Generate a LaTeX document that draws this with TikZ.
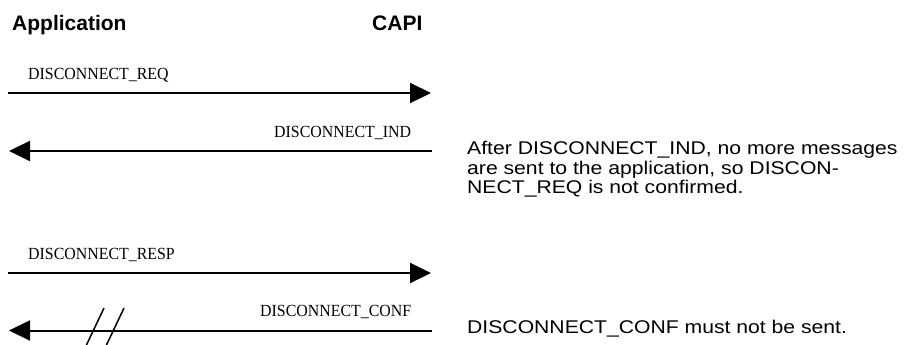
\documentclass[tikz,border=0pt]{standalone}
\usepackage{fontspec}
\newfontfamily\labelfont[FakeStretch=0.935]{Liberation Serif}
\newfontfamily\notefont[FakeStretch=1.15]{Liberation Sans}
\newfontfamily\headfont{Liberation Sans}
\usetikzlibrary{arrows.meta}
\begin{document}
\begin{tikzpicture}[x=1pt,y=-1pt,
  party/.style={anchor=base west,inner sep=0pt,font=\headfont\bfseries\fontsize{21}{24}\selectfont},
  msglabel/.style={anchor=base west,inner sep=0pt,font=\labelfont\fontsize{17}{20}\selectfont},
  note/.style={anchor=base west,inner sep=0pt,align=left,font=\notefont\fontsize{18.4}{19.4}\selectfont},
  msg/.style={line width=2pt,-{Triangle[length=21pt,width=20pt]}},
  cut/.style={line width=1.5pt}]
\useasboundingbox (0,0) rectangle (906,345);

% column headings
\node[party] (app) at (12,31) {Application};
\node[party] (capi) at (372,31) {CAPI};

% end points of the message arrows
\coordinate (reqA) at (8,93);    \coordinate (reqC) at (431,93);
\coordinate (indC) at (432,151); \coordinate (indA) at (9,151);
\coordinate (rspA) at (8,273);   \coordinate (rspC) at (431,273);
\coordinate (cnfC) at (432,330.5); \coordinate (cnfA) at (9,330.5);

% message labels
\node[msglabel] (lreq) at (28,80) {DISCONNECT\_REQ};
\node[msglabel] (lind) at (274,137) {DISCONNECT\_IND};
\node[msglabel] (lrsp) at (28,259) {DISCONNECT\_RESP};
\node[msglabel] (lcnf) at (260,316) {DISCONNECT\_CONF};

% messages
\draw[msg] (reqA) -- (reqC);
\draw[msg] (indC) -- (indA);
\draw[msg] (rspA) -- (rspC);
\draw[msg] (cnfC) -- (cnfA);

% the confirmation is never delivered
\coordinate (s1t) at (104,308); \coordinate (s1b) at (86,346);
\coordinate (s2t) at (124,308); \coordinate (s2b) at (106,346);
\draw[cut] (s1t) -- (s1b);
\draw[cut] (s2t) -- (s2b);

% remarks (a multi-line node sits on the baseline of its last line)
\node[note] (n1) at (467,193.5) {After DISCONNECT\_IND, no more messages\\are sent to the application, so DISCON-\\NECT\_REQ is not confirmed.};
\node[note] (n2) at (467,333) {DISCONNECT\_CONF must not be sent.};
\end{tikzpicture}
\end{document}
